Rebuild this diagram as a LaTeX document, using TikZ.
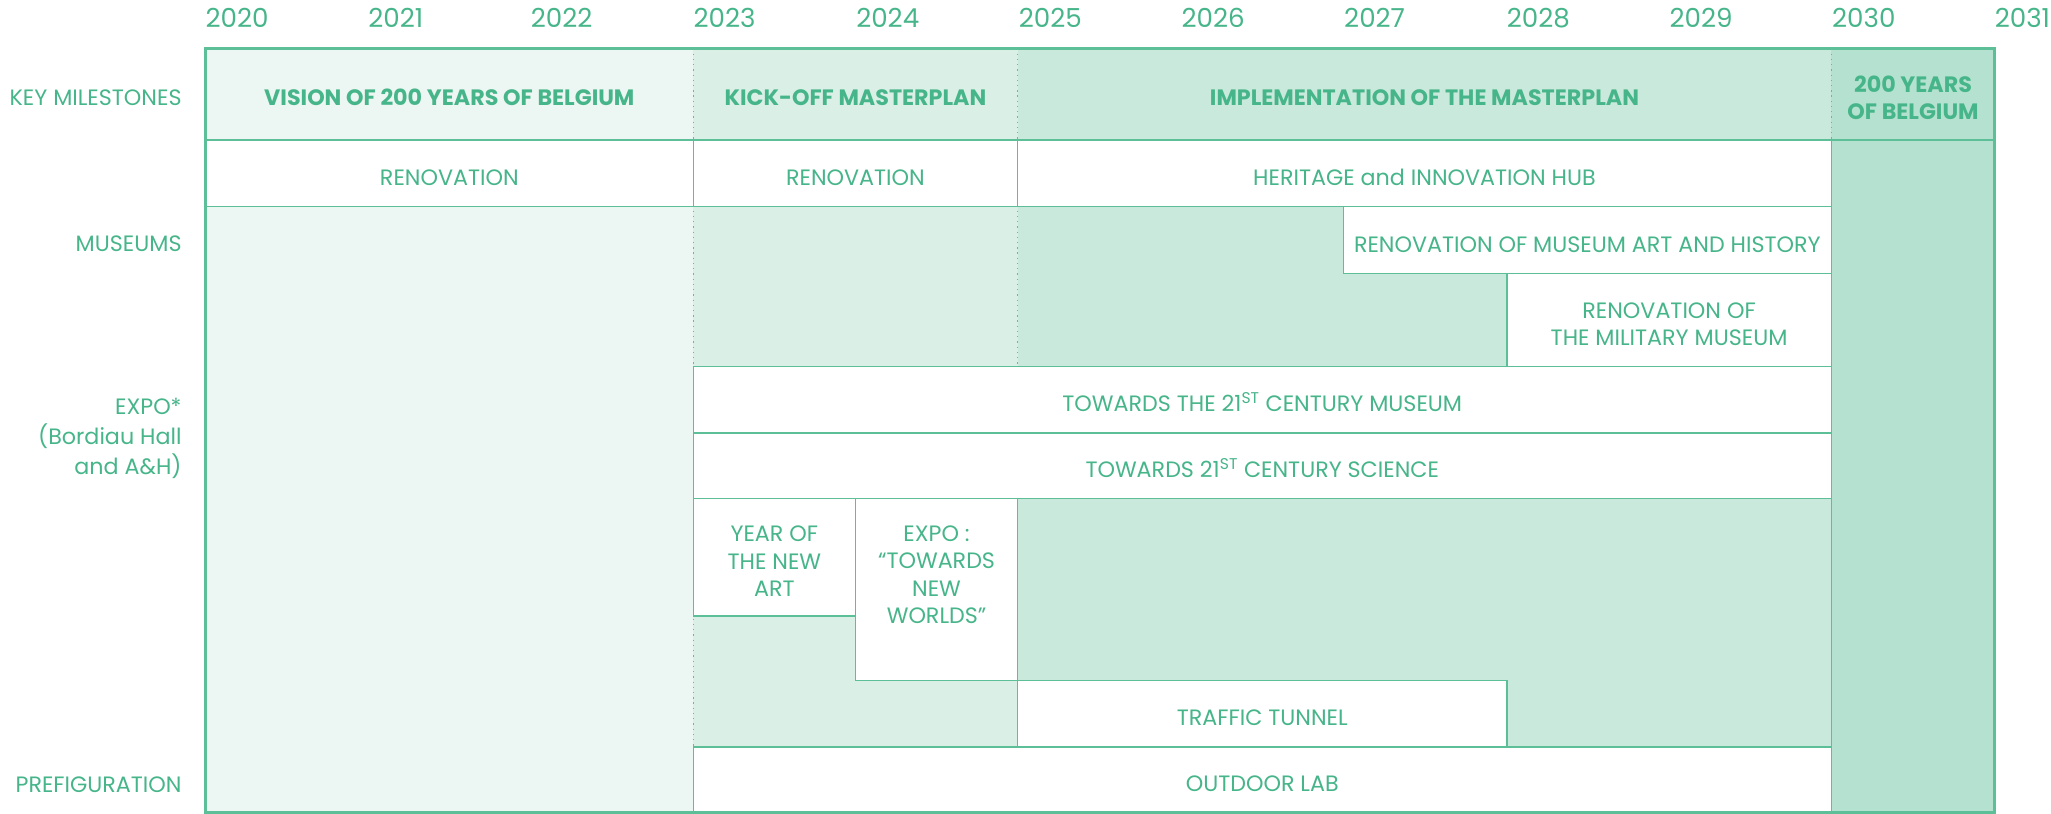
\documentclass[tikz,border=0pt]{standalone}
\usepackage{fontspec}
\setmainfont{Poppins}
\definecolor{gtext}{HTML}{47B58A}
\definecolor{gline}{HTML}{5DBF98}
\definecolor{gA}{HTML}{ECF6F2}
\definecolor{gB}{HTML}{DAF0E7}
\definecolor{gC}{HTML}{C8E9DB}
\definecolor{gD}{HTML}{B5E2D0}
\newcommand{\cl}[1]{\begin{tabular}{@{}c@{}}#1\end{tabular}}
\newcommand{\lowcl}[1]{\raisebox{0pt}[\dimexpr\height+10pt\relax][\depth]{\cl{#1}}}
\tikzset{
  x=1pt, y=-1pt,
  txt/.style={text=gtext, inner sep=0pt, font=\fontsize{17}{21}\selectfont},
  yeartxt/.style={text=gtext, inner sep=0pt, font=\fontsize{20}{22}\selectfont, anchor=west},
  rowtxt/.style={text=gtext, inner sep=0pt, anchor=east, align=right, font=\fontsize{17}{23}\selectfont},
  cell/.style={draw=gline, line width=1pt, fill=white, inner sep=0pt, outer sep=0pt,
    text=gtext, font=\fontsize{17}{21}\selectfont},
  kcell/.style={inner sep=0pt, outer sep=0pt, text=gtext,
    font=\fontsize{17}{20}\selectfont\bfseries},
  dotline/.style={draw=gline, line width=1pt, dash pattern=on 1pt off 3pt},
  frame/.style={draw=gline, line width=2pt}
}
\newcommand{\gcell}[7][cell]{%
  \node[#1, minimum width={(#5-#3)*1pt}, minimum height={(#6-#4)*1pt}]
    (#2) at ({(#3+#5)/2},{(#4+#6)/2}) {\lowcl{#7}};}
\begin{document}
\begin{tikzpicture}
\useasboundingbox (0,0) rectangle (1568,622);
% column backgrounds
\fill[gA] (157,37) rectangle (530,621);
\fill[gB] (530,37) rectangle (778,621);
\fill[gC] (778,37) rectangle (1400,621);
\fill[gD] (1400,37) rectangle (1525,621);
% dotted column boundaries
\draw[dotline] (530,37) -- (530,571);
\draw[dotline] (778,37) -- (778,571);
\draw[dotline] (1400,37) -- (1400,107);
\draw[dotline] (1400,381) -- (1400,571);
% key milestones
\gcell[kcell]{k1}{157}{37}{530}{107}{VISION OF 200 YEARS OF BELGIUM}
\gcell[kcell]{k2}{530}{37}{778}{107}{KICK-OFF MASTERPLAN}
\gcell[kcell]{k3}{778}{37}{1400}{107}{IMPLEMENTATION OF THE MASTERPLAN}
\gcell[kcell]{k4}{1400}{37}{1525}{107}{200 YEARS\\OF BELGIUM}
% white activity boxes
\gcell{r1}{157}{107}{530}{158}{RENOVATION}
\gcell{r2}{530}{107}{778}{158}{RENOVATION}
\gcell{hub}{778}{107}{1400}{158}{HERITAGE and INNOVATION HUB}
\gcell{mah}{1027}{158}{1400}{209}{RENOVATION OF MUSEUM ART AND HISTORY}
\gcell{mil}{1152}{209}{1400}{280}{RENOVATION OF\\THE MILITARY MUSEUM}
\gcell{tmus}{530}{280}{1400}{331}{TOWARDS THE 21\textsuperscript{ST} CENTURY MUSEUM}
\gcell{tsci}{530}{331}{1400}{381}{TOWARDS 21\textsuperscript{ST} CENTURY SCIENCE}
\gcell{yna}{530}{381}{654}{471}{YEAR OF\\THE NEW\\ART}
\gcell{expo}{654}{381}{778}{520}{}
\node[txt, anchor=north] (expotxt) at (716,399) {\cl{EXPO :\\“TOWARDS\\NEW\\WORLDS”}};
\gcell{tun}{778}{520}{1152}{571}{TRAFFIC TUNNEL}
\gcell{lab}{530}{571}{1400}{621}{OUTDOOR LAB}
% 2030 column border and row separator
\draw[draw=gline, line width=1pt] (1400,107) -- (1400,621);
\draw[draw=gline, line width=2pt] (157,107) -- (1525,107);
% outer frame
\draw[frame] (157,37) rectangle (1525,621);
% years
\foreach \k/\yr in {0/2020,1/2021,2/2022,3/2023,4/2024,5/2025,6/2026,7/2027,8/2028,9/2029,10/2030,11/2031}
  \node[yeartxt] (y\yr) at ({157+124.35*\k},14) {\yr};
% row labels
\node[rowtxt] (lkey) at (139,75) {KEY MILESTONES};
\node[rowtxt] (lmus) at (139,186) {MUSEUMS};
\node[rowtxt] (lexpo) at (139,335) {EXPO*\\(Bordiau Hall\\and A\&H)};
\node[rowtxt] (lpre) at (139,600) {PREFIGURATION};
\end{tikzpicture}
\end{document}
